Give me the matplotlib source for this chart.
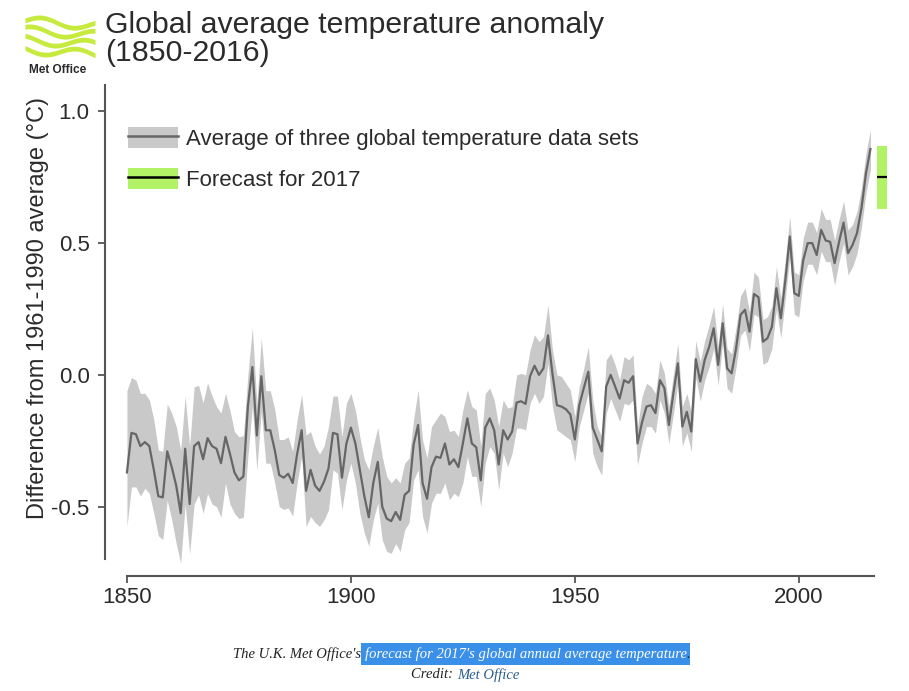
import numpy as np
import matplotlib
matplotlib.use("Agg")
from matplotlib import pyplot as plt
from matplotlib.patches import Patch
from matplotlib.lines import Line2D

plt.rcParams['font.family'] = ['Liberation Sans', 'DejaVu Sans']
plt.rcParams['axes.unicode_minus'] = False

years = list(range(1850, 2017))

# annual anomaly, average of three data sets
anomaly = [
    -0.37, -0.22, -0.225, -0.27, -0.255, -0.27, -0.36, -0.46, -0.465, -0.29,      # 1850s
    -0.35, -0.42, -0.525, -0.28, -0.49, -0.27, -0.255, -0.32, -0.24, -0.27,       # 1860s
    -0.28, -0.335, -0.235, -0.30, -0.37, -0.40, -0.385, -0.12, 0.03, -0.23,       # 1870s
    -0.005, -0.21, -0.21, -0.285, -0.38, -0.39, -0.375, -0.41, -0.30, -0.21,      # 1880s
    -0.44, -0.36, -0.42, -0.44, -0.405, -0.355, -0.22, -0.225, -0.39, -0.26,      # 1890s
    -0.20, -0.26, -0.36, -0.46, -0.54, -0.41, -0.33, -0.50, -0.545, -0.555,       # 1900s
    -0.52, -0.55, -0.455, -0.44, -0.265, -0.19, -0.41, -0.47, -0.35, -0.31,       # 1910s
    -0.315, -0.26, -0.34, -0.32, -0.35, -0.26, -0.165, -0.26, -0.275, -0.40,      # 1920s
    -0.20, -0.165, -0.21, -0.34, -0.21, -0.245, -0.215, -0.105, -0.10, -0.11,     # 1930s
    -0.005, 0.035, 0.0, 0.025, 0.15, 0.005, -0.115, -0.12, -0.13, -0.15,          # 1940s
    -0.245, -0.115, -0.05, 0.012, -0.20, -0.245, -0.29, -0.044, 0.0, -0.044,      # 1950s
    -0.09, -0.02, -0.03, -0.005, -0.26, -0.18, -0.12, -0.115, -0.145, -0.02,      # 1960s
    -0.05, -0.19, -0.07, 0.044, -0.196, -0.14, -0.215, 0.06, -0.025, 0.057,       # 1970s
    0.107, 0.177, 0.038, 0.196, 0.025, 0.006, 0.10, 0.228, 0.247, 0.164,          # 1980s
    0.307, 0.295, 0.126, 0.139, 0.183, 0.329, 0.215, 0.36, 0.525, 0.31,           # 1990s
    0.30, 0.436, 0.50, 0.50, 0.455, 0.55, 0.51, 0.505, 0.424, 0.505,              # 2000s
    0.578, 0.462, 0.493, 0.538, 0.633, 0.765, 0.857,                              # 2010s
]

band_upper = [
    -0.06, -0.01, -0.02, -0.07, -0.07, -0.095, -0.17, -0.285, -0.29, -0.11,
    -0.145, -0.195, -0.285, -0.08, -0.27, -0.045, -0.04, -0.105, -0.03, -0.08,
    -0.12, -0.145, -0.07, -0.135, -0.215, -0.235, -0.23, 0.0, 0.18, -0.11,
    0.14, -0.06, -0.06, -0.13, -0.245, -0.245, -0.235, -0.29, -0.17, -0.075,
    -0.228, -0.215, -0.27, -0.30, -0.27, -0.196, -0.08, -0.08, -0.235, -0.107,
    -0.07, -0.133, -0.235, -0.32, -0.36, -0.27, -0.20, -0.31, -0.385, -0.41,
    -0.39, -0.41, -0.335, -0.315, -0.17, -0.057, -0.247, -0.315, -0.196, -0.17,
    -0.145, -0.158, -0.215, -0.21, -0.234, -0.133, -0.057, -0.12, -0.133, -0.27,
    -0.07, -0.05, -0.095, -0.196, -0.095, -0.126, -0.12, 0.0, 0.006, 0.0,
    0.095, 0.152, 0.126, 0.145, 0.266, 0.095, 0.0, -0.006, -0.032, -0.057,
    -0.158, -0.044, 0.025, 0.107, -0.095, -0.196, -0.234, 0.057, 0.082, 0.038,
    -0.019, 0.07, 0.057, 0.076, -0.196, -0.082, -0.032, -0.044, -0.07, 0.057,
    0.006, -0.12, 0.0, 0.12, -0.12, -0.07, -0.14, 0.13, 0.05, 0.13,
    0.19, 0.26, 0.11, 0.27, 0.10, 0.08, 0.18, 0.30, 0.33, 0.24,
    0.39, 0.37, 0.21, 0.22, 0.26, 0.41, 0.29, 0.44, 0.60, 0.39,
    0.38, 0.52, 0.58, 0.58, 0.54, 0.63, 0.59, 0.59, 0.51, 0.59,
    0.66, 0.55, 0.57, 0.62, 0.71, 0.84, 0.93,
]

band_lower = [
    -0.575, -0.425, -0.425, -0.46, -0.43, -0.45, -0.525, -0.61, -0.625, -0.475,
    -0.55, -0.64, -0.715, -0.49, -0.68, -0.49, -0.455, -0.525, -0.45, -0.49,
    -0.50, -0.54, -0.41, -0.49, -0.525, -0.545, -0.54, -0.31, -0.12, -0.36,
    -0.14, -0.335, -0.335, -0.41, -0.50, -0.51, -0.505, -0.535, -0.41, -0.31,
    -0.575, -0.537, -0.56, -0.575, -0.55, -0.512, -0.36, -0.373, -0.512, -0.40,
    -0.335, -0.41, -0.525, -0.60, -0.65, -0.55, -0.487, -0.626, -0.67, -0.677,
    -0.64, -0.67, -0.588, -0.56, -0.40, -0.36, -0.537, -0.60, -0.487, -0.449,
    -0.449, -0.41, -0.474, -0.449, -0.462, -0.41, -0.31, -0.385, -0.385, -0.50,
    -0.335, -0.272, -0.297, -0.436, -0.297, -0.348, -0.297, -0.202, -0.202, -0.209,
    -0.108, -0.07, -0.108, -0.082, 0.044, -0.12, -0.209, -0.221, -0.234, -0.247,
    -0.329, -0.196, -0.133, -0.07, -0.297, -0.348, -0.38, -0.146, -0.089, -0.133,
    -0.177, -0.108, -0.114, -0.095, -0.342, -0.26, -0.196, -0.196, -0.221, -0.095,
    -0.146, -0.26, -0.15, -0.03, -0.27, -0.22, -0.29, -0.01, -0.10, -0.02,
    0.03, 0.10, -0.04, 0.12, -0.05, -0.07, 0.03, 0.15, 0.17, 0.09,
    0.23, 0.22, 0.04, 0.05, 0.10, 0.25, 0.14, 0.29, 0.45, 0.23,
    0.22, 0.36, 0.42, 0.42, 0.38, 0.47, 0.43, 0.43, 0.34, 0.43,
    0.50, 0.38, 0.41, 0.46, 0.56, 0.69, 0.78,
]

forecast_year = 2018.6
forecast_mid = 0.75
forecast_low = 0.63
forecast_high = 0.87

band_col = "#c9c9c9"
line_col = "#666666"
green = "#b2f266"
text_col = "#2b2b2b"

fig = plt.figure(figsize=(9.09, 6.91), dpi=100)
ax = fig.add_axes([105/909, 1 - 576/691, 795/909, 491/691])

ax.fill_between(years, band_lower, band_upper, color=band_col, lw=0)
ax.plot(years, anomaly, color=line_col, lw=1.6)

ax.bar(forecast_year, forecast_high - forecast_low, bottom=forecast_low,
       width=2.2, color=green, lw=0)
ax.hlines(forecast_mid, forecast_year - 1.1, forecast_year + 1.1, color="black", lw=1.6)

ax.set_xlim(1845.1, 2022.6)
ax.set_ylim(-0.763, 1.10)
ax.spines['top'].set_visible(False)
ax.spines['right'].set_visible(False)
for s in ('left', 'bottom'):
    ax.spines[s].set_color("#555555")
    ax.spines[s].set_linewidth(1.5)
ax.spines['left'].set_bounds(-0.70, 1.10)
ax.spines['bottom'].set_bounds(1850, 2016.8)

ax.set_xticks([1850, 1900, 1950, 2000])
ax.set_yticks([-0.5, 0.0, 0.5, 1.0])
ax.set_yticklabels(["-0.5", "0.0", "0.5", "1.0"])
ax.tick_params(axis='both', colors="#555555", labelcolor=text_col,
               labelsize=16, length=5, width=1.3)
ax.tick_params(axis='y', pad=6)
ax.tick_params(axis='x', pad=3)

ax.set_ylabel("Difference from 1961-1990 average (\u00b0C)", fontsize=17, color=text_col)
ax.yaxis.set_label_coords(-0.07, 0.546)

handles = [(Patch(facecolor=band_col, lw=0), Line2D([], [], color=line_col, lw=1.8)),
           (Patch(facecolor=green, lw=0), Line2D([], [], color="black", lw=1.8))]
labels = ["Average of three global temperature data sets", "Forecast for 2017"]
leg = ax.legend(handles, labels, loc="upper left", bbox_to_anchor=(0.029, 0.915),
                frameon=False, fontsize=16, handlelength=2.25, handleheight=1.08,
                handletextpad=0.35, labelspacing=0.82, borderpad=0, borderaxespad=0)
for t in leg.get_texts():
    t.set_color(text_col)

# title
fig.text(105/909, 1 - 25/691, "Global average temperature anomaly", fontsize=21.8,
         color=text_col, va="center", ha="left")
fig.text(105/909, 1 - 53/691, "(1850-2016)", fontsize=21.8,
         color=text_col, va="center", ha="left")

# Met Office logo
lax = fig.add_axes([25/909, 1 - 60/691, 70/909, 46/691])
xs = np.linspace(0, 1, 200)
for i in range(4):
    c = 0.84 - i * 0.24
    wave = c + 0.10 * np.sin(2 * np.pi * (1.1 * xs + 0.15 * i)) - 0.12 * xs
    lax.fill_between(xs, wave - 0.06, wave + 0.06, color="#c6ea3e", lw=0)
lax.set_xlim(0, 1)
lax.set_ylim(-0.15, 1.0)
lax.axis("off")
fig.text(58/909, 1 - 70/691, "Met Office", fontsize=8.5, fontweight="bold",
         color="#2a2a2a", ha="center", va="center")

# caption
cap_y = 1 - 654/691
cap1 = fig.text(233/909, cap_y, "The U.K. Met Office's ", fontsize=10.5,
                family="Liberation Serif", style="italic", color="#222222",
                ha="left", va="center")
cap2 = fig.text(0, 0, "forecast for 2017's global annual average temperature",
                fontsize=10.5, family="Liberation Serif", style="italic", color="white",
                ha="left", va="center",
                bbox=dict(boxstyle="square,pad=0.25", fc="#3a8fe8", ec="none"))
fig.canvas.draw()
r = fig.canvas.get_renderer()
bb1 = cap1.get_window_extent(r)
cap2.set_position((bb1.x1 / fig.bbox.width, cap_y))
fig.canvas.draw()
bb2 = cap2.get_window_extent(r)
fig.text(bb2.x1 / fig.bbox.width, cap_y, ".", fontsize=10.5,
         family="Liberation Serif", style="italic", color="#222222",
         ha="left", va="center")
fig.text(457/909, 1 - 675/691, "Credit: ", fontsize=10.5, family="Liberation Serif",
         style="italic", color="#222222", ha="right", va="center")
fig.text(457/909, 1 - 675/691, "Met Office", fontsize=10.5, family="Liberation Serif",
         style="italic", color="#2a5d8f", ha="left", va="center")

plt.savefig("out.png", dpi=100)
